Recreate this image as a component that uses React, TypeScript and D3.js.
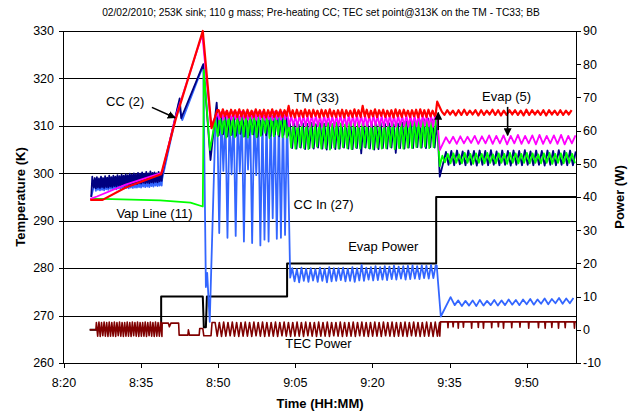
import React from "react";
import * as d3 from "d3";

type Pt = [number, number];

// Time is expressed in minutes after 8:20.
const timeTicks = [0, 15, 30, 45, 60, 75, 90];
const timeLabels = ["8:20", "8:35", "8:50", "9:05", "9:20", "9:35", "9:50"];
const tempTicks = [260, 270, 280, 290, 300, 310, 320, 330];
const powerTicks = [-10, 0, 10, 20, 30, 40, 50, 60, 70, 80, 90];

const title =
  "02/02/2010; 253K sink; 110 g mass; Pre-heating CC; TEC set point@313K on the TM - TC33; BB";

// Regularly logged stretch: first sample time, logging interval, readings.
function seg(start: number, step: number, values: number[]): Pt[] {
  return values.map((v, i) => [start + i * step, v] as Pt);
}

// ---------- TM (33), K ----------
const tmStart: Pt[] = [
  [5.1, 294.4], [7.5, 294.4], [12, 297.0], [18.9, 299.8], [21.7, 311.3],
  [27.0, 330.0], [28.7, 309.5], [29.8, 313.3],
];
const tmCycling = [
  313.3, 311.9, 313.5, 312.0, 313.2, 311.8, 313.4, 312.1, 313.3, 311.9,
  313.5, 312.0, 313.3, 311.8, 313.4, 312.0, 313.2, 311.9, 313.5, 312.1,
  313.3, 311.9, 313.4, 311.8, 313.3, 312.0, 313.5, 311.9, 313.2, 312.0,
  313.4, 311.9, 313.3, 312.1, 314.2, 312.0, 313.3, 311.8, 313.4, 312.0,
  313.2, 311.9, 313.5, 312.0, 313.3, 311.9, 313.4, 312.1, 313.2, 311.8,
  313.4, 312.0, 313.3, 311.9, 313.5, 312.0, 313.2, 311.9, 313.3, 312.0,
  313.4, 311.8, 313.3, 312.1, 313.2, 311.9, 313.5, 312.0, 313.3, 311.9,
  314.2, 312.0, 313.4, 311.8, 313.2, 312.0, 313.5, 311.9, 313.3, 312.1,
  313.4, 311.9, 313.2, 312.0, 313.3, 311.8, 313.5, 312.0, 313.3, 311.9,
  313.4, 312.1, 313.2, 311.9, 313.3, 312.0, 313.4, 311.8, 313.5, 312.0,
  313.3, 311.9, 313.4, 312.0, 313.2, 312.1,
];
const tmStep: Pt[] = [[72.3, 312.4], [72.6, 315.1], [73.5, 313.0]];
const tmLate = [
  312.3, 313.3, 312.4, 313.2, 312.2, 313.3, 312.3, 313.4, 312.3, 313.2,
  312.4, 313.3, 312.2, 313.3, 312.3, 313.2, 312.4, 313.4, 312.3, 313.3,
  312.2, 313.2, 312.3, 313.3, 312.4, 313.3, 312.3, 313.2, 312.2, 313.4,
  312.3, 313.3, 312.4, 313.2, 312.3, 313.3, 312.2, 313.3, 312.4, 313.2,
  312.3, 313.3, 312.3, 313.2, 312.4, 313.3,
];

// ---------- Evap (5), K ----------
const evapStart: Pt[] = [
  [5.1, 294.6], [6.4, 295.1], [12, 297.6], [18.7, 300.0], [19.1, 300.3],
  [21.7, 311.8], [26.9, 329.3], [28.6, 310.0], [29.8, 312.6],
];
const evapCycling = [
  311.4, 312.9, 311.3, 313.0, 311.5, 312.8, 311.3, 313.0, 311.4, 312.9,
  311.2, 313.0, 311.4, 312.9, 311.3, 312.8, 311.5, 313.0, 311.3, 312.9,
  311.4, 313.0, 311.3, 312.8, 311.4, 312.9, 311.2, 313.0, 311.4, 312.9,
  311.3, 312.9, 311.4, 313.0, 309.9, 312.2, 310.0, 312.1, 309.8, 312.3,
  310.0, 312.2, 309.9, 312.1, 309.8, 312.3, 310.0, 312.2, 309.9, 312.1,
  309.8, 312.2, 310.0, 312.3, 309.9, 312.1, 309.8, 312.2, 310.0, 312.3,
  309.9, 312.1, 309.8, 312.2, 310.0, 312.1, 309.9, 312.3, 309.8, 312.2,
  310.0, 312.1, 309.9, 312.2, 309.8, 312.3, 310.0, 312.2, 309.9, 312.1,
  309.8, 312.2, 310.0, 312.3, 309.9, 312.1, 309.8, 312.2, 310.0, 312.1,
  309.9, 312.3, 309.8, 312.2, 310.0, 312.1, 309.9, 312.2, 309.8, 312.3,
  310.0, 312.2, 309.9, 312.1, 309.8, 312.4,
];
const evapStep: Pt[] = [[72.6, 311.5], [73.1, 304.9]];
const evapLate = [
  307.6, 306.3, 307.7, 306.2, 307.8, 306.3, 307.7, 306.4, 307.9, 306.2,
  307.8, 306.3, 308.0, 306.2, 307.9, 306.3, 308.0, 306.1, 307.9, 306.3,
  308.1, 306.2, 307.9, 306.3, 308.0, 306.1, 308.1, 306.2, 307.9, 306.3,
  308.0, 306.2, 308.1, 306.1, 307.9, 306.3, 308.0,
];

// ---------- Vap Line (11), K ----------
const vapStart: Pt[] = [
  [5.1, 294.6], [7.5, 294.6], [18.7, 294.3], [24.6, 293.8], [27.0, 293.0],
  [27.2, 321.8], [28.4, 304.9], [29.4, 311.2],
];
const vapCycling = [
  307.8, 312.2, 308.3, 312.0, 307.5, 312.3, 308.0, 312.1, 307.6, 312.2,
  308.4, 312.0, 307.7, 312.3, 307.5, 312.1, 308.2, 312.2, 307.6, 312.0,
  307.9, 312.3, 308.5, 312.1, 307.4, 312.2, 307.8, 312.0, 308.1, 312.3,
  307.6, 312.1, 307.5, 310.6, 305.4, 310.4, 305.2, 310.7, 305.5, 310.3,
  305.3, 310.6, 305.1, 310.5, 305.4, 310.4, 305.6, 310.7, 305.2, 310.5,
  305.3, 310.6, 305.0, 310.4, 305.4, 310.7, 305.2, 310.5, 305.5, 310.3,
  305.3, 310.6, 305.1, 310.5, 305.4, 310.7, 305.2, 310.4, 305.5, 310.6,
  305.3, 310.5, 305.1, 310.7, 305.4, 310.4, 305.2, 310.6, 305.3, 310.5,
  305.5, 310.7, 305.1, 310.4, 305.3, 310.6, 305.2, 310.8, 305.4, 311.0,
  305.3, 311.2, 305.5, 311.4, 305.4, 311.3, 305.6, 311.5, 305.3, 311.4,
  305.5, 311.6,
];
const vapStep: Pt[] = [[72.6, 310.5], [73.1, 301.5], [73.6, 303.7]];
const vapLate = [
  302.3, 304.1, 302.1, 304.2, 302.2, 304.0, 302.1, 304.3, 302.2, 304.1,
  302.0, 304.2, 302.2, 304.1, 302.1, 304.3, 302.2, 304.0, 302.1, 304.2,
  302.2, 304.1, 302.0, 304.3, 302.2, 304.2, 302.1, 304.1, 302.2, 304.3,
  302.1, 304.2, 302.2, 304.0, 302.1, 304.2, 302.2, 304.3, 302.0, 304.1,
  302.2, 304.2, 302.1, 304.3, 302.2, 304.1, 302.1,
];

// ---------- CC (2), K ----------
const ccHead: Pt[] = [[5.3, 295.0], [5.5, 299.3], [5.8, 297.0]];
const ccNoise = [
  299.0, 296.8, 299.2, 297.0, 298.9, 296.9, 299.3, 297.1, 299.0, 296.9,
  299.4, 297.1, 299.1, 297.0, 299.5, 297.2, 299.2, 297.1, 299.5, 297.3,
  299.3, 297.2, 299.6, 297.4, 299.4, 297.3, 299.7, 297.5, 299.5, 297.4,
  299.8, 297.6, 299.6, 297.5, 299.9, 297.7, 299.7, 297.6, 300.0, 297.8,
  299.8, 297.7, 300.1, 297.9, 299.9, 297.8, 300.2, 298.0, 299.9, 297.9,
  300.3, 298.0, 300.0, 297.9, 300.4, 298.1, 300.1, 298.0, 300.2, 298.2,
  300.0, 298.1, 300.3, 298.3, 300.1, 298.4,
];
const ccRamp: Pt[] = [
  [19.1, 299.8], [22.5, 315.8], [22.8, 311.6], [27.1, 323.0], [28.5, 302.8],
  [29.7, 314.9],
];
const ccCycling = [
  308.0, 312.0, 308.2, 311.9, 307.8, 312.1, 308.1, 311.8, 307.9, 312.0,
  308.3, 311.9, 307.8, 312.1, 308.0, 311.9, 308.2, 312.0, 307.7, 311.8,
  308.1, 312.1, 308.0, 311.9, 307.9, 312.0, 308.2, 311.8, 307.8, 312.0,
  308.1, 311.9, 307.9, 310.4, 305.3, 310.5, 305.2, 310.3, 305.4, 310.5,
  305.1, 310.4, 305.3, 310.6, 305.2, 310.3, 305.4, 310.5, 305.2, 310.4,
  305.0, 310.5, 305.3, 310.4, 305.1, 310.6, 305.2, 310.3, 305.4, 310.5,
  305.2, 310.4, 305.1, 310.6, 305.3, 310.4, 304.2, 310.5, 305.4, 310.3,
  305.2, 310.5, 305.0, 310.4, 305.1, 310.6, 305.3, 310.4, 305.2, 310.5,
  305.4, 310.3, 304.3, 310.5, 305.3, 310.7, 305.2, 310.9, 305.4, 311.1,
  305.3, 311.3, 305.5, 311.2, 305.4, 311.4, 305.3, 311.5, 305.5, 311.3,
  305.4,
];
const ccStep: Pt[] = [[72.6, 311.0], [73.1, 299.3], [74.3, 304.5]];
const ccLate = [
  301.8, 304.7, 301.7, 304.8, 301.9, 304.6, 301.7, 304.8, 301.8, 304.7,
  301.6, 304.8, 301.8, 304.7, 301.7, 304.9, 301.8, 304.6, 301.7, 304.8,
  301.8, 304.7, 301.6, 304.8, 301.8, 304.7, 301.7, 304.9, 301.8, 304.6,
  301.7, 304.8, 301.8, 304.7, 301.6, 304.8, 301.8, 304.7, 301.7, 304.9,
  301.8, 304.7, 301.7, 304.8, 301.7, 304.6,
];

// ---------- CC In (27), K ----------
const ccInHead: Pt[] = [[5.3, 295.1]];
const ccInNoise = [
  298.0, 296.3, 298.1, 296.5, 297.9, 296.4, 298.2, 296.5, 298.0, 296.4,
  298.3, 296.6, 298.1, 296.5, 298.3, 296.7, 298.2, 296.6, 298.4, 296.7,
  298.2, 296.6, 298.5, 296.8, 298.3, 296.7, 298.5, 296.9, 298.4, 296.8,
  298.6, 296.9, 298.5, 296.8, 298.7, 297.0, 298.5, 296.9, 298.8, 297.0,
  298.6, 297.0, 298.8, 297.1, 298.7, 297.0, 298.9, 297.2, 298.8, 297.1,
  299.0, 297.2, 298.8, 297.1, 299.0, 297.3, 298.9, 297.2, 299.1, 297.4,
  298.9, 297.3, 299.1, 297.4, 299.0, 297.4,
];
const ccInRamp: Pt[] = [
  [19.1, 298.8], [22.3, 314.6], [23.0, 311.2], [27.1, 322.8], [27.6, 276.0],
  [27.85, 279.0], [28.35, 268.7], [29.4, 308.4],
];
const ccInSurge = [
  312.3, 287.4, 312.5, 300.5, 312.4, 286.4, 312.3, 299.8, 312.5, 286.8,
  312.4, 300.3, 312.3, 285.6, 312.5, 300.8, 312.4, 285.3, 312.3, 299.6,
  312.5, 284.8, 312.4, 286.0, 312.3, 285.6, 312.5, 290.5, 312.4, 286.2,
  312.3, 286.4, 312.5, 287.0, 312.4,
];
const ccInDrop: Pt[] = [[44.0, 278.0]];
const ccIn20W = [
  280.0, 277.2, 279.8, 277.0, 280.1, 277.3, 279.9, 277.1, 280.0, 277.4,
  279.8, 277.1, 280.1, 277.3, 279.9, 277.0, 280.2, 277.2, 280.0, 277.3,
  280.0, 277.5, 280.1, 277.2, 279.9, 277.3, 280.2, 277.1, 280.0, 277.4,
  280.7, 277.3, 280.1, 277.6, 280.2, 277.4, 280.4, 277.5, 280.2, 277.6,
  280.4, 277.5, 280.3, 277.7, 280.5, 277.6, 280.3, 277.8, 280.4, 277.6,
  280.5, 277.7, 280.6, 277.8, 280.4, 277.7, 280.6, 277.9, 280.5, 277.8,
  280.7, 277.9, 280.6,
];
const ccInStep: Pt[] = [[72.5, 280.6], [73.3, 269.8], [75.2, 273.9]];
const ccInLate = [
  272.2, 273.2, 272.0, 273.1, 272.1, 273.2, 272.0, 273.3, 272.1, 273.1,
  272.2, 273.3, 272.1, 273.2, 272.2, 273.4, 272.3, 273.3, 272.2, 273.4,
  272.4, 273.5, 272.3, 273.4, 272.5, 273.6, 272.4, 273.5, 272.6, 273.7,
  272.5, 273.6, 272.6, 273.7,
];

// ---------- Evap Power, W ----------
const evapPower: Pt[] = [
  [5.0, 0], [18.9, 0], [18.9, 10], [27.0, 10], [27.2, 0.8], [27.6, 0.8],
  [27.8, 10], [43.4, 10], [43.4, 20], [72.4, 20], [72.4, 40], [99.6, 40],
];

// ---------- TEC Power, W ----------
const tecHead: Pt[] = [[5.0, 0], [6.2, 0]];
const tecDuty = [
  2.2, -1.9, 2.3, -2.0, 2.2, -1.8, 2.3, -1.9, 2.2, -2.0,
  2.3, -1.9, 2.2, -1.9, 2.3, -2.0, 2.2, -1.8, 2.3, -1.9,
  2.2, -2.0, 2.2, -1.9, 2.3, -1.9, 2.2, -2.0, 2.3, -1.8,
  2.2, -1.9, 2.3, -2.0, 2.2, -1.9, 2.2, -1.9, 2.3, -2.0,
  2.2, -1.8, 2.3, -1.9, 2.2, -2.0, 2.3, -1.9, 2.2, -1.9,
  2.3, -2.0,
];
const tecHold: Pt[] = [
  [19.1, 2.0], [20.3, 2.0], [20.5, 0.9], [20.8, 2.0], [22.3, 2.0], [22.4, -1.6],
  [24.1, -1.6], [24.2, 0.0], [24.4, -1.6], [26.3, -1.6], [26.4, 0.4], [27.0, 0.4],
  [27.2, -1.8], [28.6, -1.8], [28.8, 2.2], [29.4, 2.2],
];
const tecCycling = [
  -1.9, 2.2, -2.0, 2.3, -1.9, 2.2, -1.8, 2.3, -1.9, 2.2,
  -2.0, 2.2, -1.9, 2.3, -1.9, 2.2, -2.0, 2.3, -1.8, 2.2,
  -1.9, 2.3, -2.0, 2.2, -1.9, 2.2, -1.9, 2.3, -2.0, 2.2,
  -1.8, 2.3, -1.9, 2.2, -2.0, 2.2, -1.9, 2.3, -1.9, 2.2,
  -2.0, 2.3, -1.8, 2.2, -1.9, 2.2, -2.0, 2.3, -1.9, 2.2,
  -1.9, 2.3, -2.0, 2.2, -1.8, 2.2, -1.9, 2.3, -2.0, 2.2,
  -1.9, 2.2, -1.9, 2.3, -2.0, 2.2, -1.8, 2.3, -1.9, 2.2,
  -2.0, 2.2, -1.9, 2.3, -1.9, 2.2, -2.0, 2.3, -1.8, 2.2,
  -1.9, 2.3, -2.0, 2.2, -1.9, 2.2, -1.9, 2.3, -2.0, 2.2,
  -1.8, 2.3, -1.9, 2.2, -2.0, 2.2, -1.9, 2.3, -1.9, 2.2,
  -2.0, 2.3, -1.9, 2.2,
];
const tecStep: Pt[] = [[73.1, -1.9], [73.25, 2.4]];
const tecLevel = 2.4;
const tecDipTimes = [
  74.7, 75.7, 76.7, 77.7, 79.3, 80.6, 81.6, 83.2, 84.5, 85.5,
  87.1, 88.7, 90.4, 92.3, 93.6, 94.9, 96.2, 97.5, 99.3,
];
const tecDipLevels = [
  0.6, 0.9, 0.5, 0.8, 0.5, 0.7, 0.5, 0.6, 0.9, 0.5,
  0.6, 0.8, 0.5, 0.6, 0.5, 0.7, 0.5, 0.6, 0.5,
];

// Annotation text and pointer arrows (time, value on the named axis)
const notes = [
  { text: "CC (2)", t: 11.9, v: 315.1, axis: "T" },
  { text: "TM (33)", t: 49.1, v: 316.0, axis: "T" },
  { text: "Evap (5)", t: 86.1, v: 316.1, axis: "T" },
  { text: "Vap Line (11)", t: 17.6, v: 291.6, axis: "T" },
  { text: "CC In (27)", t: 50.5, v: 293.5, axis: "T" },
  { text: "Evap Power", t: 62.1, v: 25.0, axis: "P" },
  { text: "TEC Power", t: 49.5, v: -4.1, axis: "P" },
];
const pointers: { from: Pt; to: Pt }[] = [
  { from: [17.1, 313.9], to: [21.6, 311.7] },
  { from: [86.3, 314.0], to: [86.3, 308.0] },
  { from: [72.8, 309.1], to: [72.8, 312.8] },
];

const FONT = "'Liberation Sans', Arial, Helvetica, sans-serif";

export default function App() {
  const left = 64, right = 576, top = 31, bottom = 363;
  const x = d3.scaleLinear().domain([0, 99.6]).range([left, right]);
  const yT = d3.scaleLinear().domain([260, 330]).range([bottom, top]);
  const yP = d3.scaleLinear().domain([-10, 90]).range([bottom, top]);
  const lineT = d3.line<Pt>().x((d) => x(d[0])).y((d) => yT(d[1]));
  const lineP = d3.line<Pt>().x((d) => x(d[0])).y((d) => yP(d[1]));

  const tm = [...tmStart, ...seg(30.1, 0.4, tmCycling), ...tmStep, ...seg(74.0, 0.55, tmLate)];
  const evap = [...evapStart, ...seg(30.2, 0.4, evapCycling), ...evapStep, ...seg(74.3, 0.7, evapLate)];
  const vap = [...vapStart, ...seg(29.9, 0.42, vapCycling), ...vapStep, ...seg(74.1, 0.55, vapLate)];
  const cc = [...ccHead, ...seg(6.0, 0.2, ccNoise), ...ccRamp, ...seg(30.1, 0.42, ccCycling), ...ccStep, ...seg(74.8, 0.55, ccLate)];
  const ccIn = [
    ...ccInHead, ...seg(6.0, 0.2, ccInNoise), ...ccInRamp, ...seg(29.8, 0.4, ccInSurge),
    ...ccInDrop, ...seg(44.4, 0.45, ccIn20W), ...ccInStep, ...seg(76.0, 0.7, ccInLate),
  ];
  const tecLate: Pt[] = [];
  tecDipTimes.forEach((tt, i) => {
    tecLate.push([tt - 0.08, tecLevel], [tt, tecDipLevels[i]], [tt + 0.08, tecLevel]);
  });
  const tec = [
    ...tecHead, ...seg(6.3, 0.25, tecDuty), ...tecHold, ...seg(29.8, 0.42, tecCycling),
    ...tecStep, ...tecLate, [99.6, tecLevel] as Pt,
  ];

  const crisp = (v: number) => Math.round(v) + 0.5;

  return (
    <svg
      width={629}
      height={411}
      style={{ position: "absolute", left: 0, top: 0, display: "block", background: "#fff" }}
      fontFamily={FONT}
    >
      <defs>
        <clipPath id="plot">
          <rect x={left} y={top - 2} width={right - left} height={bottom - top + 2} />
        </clipPath>
        <marker id="head" viewBox="0 0 10 10" refX="9" refY="5" markerWidth="5" markerHeight="5" orient="auto">
          <path d="M0,0 L10,5 L0,10 z" fill="#000" />
        </marker>
      </defs>

      <text x={321} y={15.5} textAnchor="middle" fontSize={10.2} fill="#000">
        {title}
      </text>

      {/* horizontal gridlines on the temperature scale */}
      {tempTicks.map((t) => (
        <line key={"g" + t} x1={left} x2={right} y1={crisp(yT(t))} y2={crisp(yT(t))} stroke="#000" strokeWidth={1} />
      ))}

      <g clipPath="url(#plot)" fill="none" strokeLinejoin="round">
        <path d={lineP(evapPower) || ""} stroke="#000" strokeWidth={2} />
        <path d={lineP(tec) || ""} stroke="#800000" strokeWidth={1.6} />
        <path d={lineT(ccIn) || ""} stroke="#3366FF" strokeWidth={1.8} />
        <path d={lineT(cc) || ""} stroke="#000080" strokeWidth={1.8} />
        <path d={lineT(vap) || ""} stroke="#00FF00" strokeWidth={1.8} />
        <path d={lineT(evap) || ""} stroke="#FF00FF" strokeWidth={1.8} />
        <path d={lineT(tm) || ""} stroke="#FF0000" strokeWidth={2.2} />
      </g>

      {/* annotations */}
      {pointers.map((p, i) => (
        <line
          key={"p" + i}
          x1={x(p.from[0])}
          y1={yT(p.from[1])}
          x2={x(p.to[0])}
          y2={yT(p.to[1])}
          stroke="#000"
          strokeWidth={1.6}
          markerEnd="url(#head)"
        />
      ))}
      {notes.map((n) => (
        <text
          key={n.text}
          x={x(n.t)}
          y={(n.axis === "T" ? yT(n.v) : yP(n.v)) + 4.5}
          textAnchor="middle"
          fontSize={13}
          fill="#000"
        >
          {n.text}
        </text>
      ))}

      {/* axes */}
      <line x1={crisp(left) - 1} x2={crisp(left) - 1} y1={top} y2={bottom + 0.5} stroke="#000" strokeWidth={1} />
      <line x1={crisp(right)} x2={crisp(right)} y1={top} y2={bottom + 0.5} stroke="#000" strokeWidth={1} />
      <line x1={left - 1} x2={right + 1} y1={crisp(bottom)} y2={crisp(bottom)} stroke="#000" strokeWidth={1} />

      {tempTicks.map((t) => (
        <g key={"lt" + t}>
          <line x1={left - 5} x2={left} y1={crisp(yT(t))} y2={crisp(yT(t))} stroke="#000" />
          <text x={54} y={yT(t) + 4.3} textAnchor="end" fontSize={12.5} fill="#000">
            {t}
          </text>
        </g>
      ))}
      {powerTicks.map((p) => (
        <g key={"rt" + p}>
          <line x1={right} x2={right + 5} y1={crisp(yP(p))} y2={crisp(yP(p))} stroke="#000" />
          <text x={583} y={yP(p) + 4.3} textAnchor="start" fontSize={12.5} fill="#000">
            {p}
          </text>
        </g>
      ))}
      {timeTicks.map((t, i) => (
        <g key={"xt" + t}>
          <line x1={crisp(x(t))} x2={crisp(x(t))} y1={bottom} y2={bottom + 5} stroke="#000" />
          <text x={x(t)} y={386.5} textAnchor="middle" fontSize={12.5} fill="#000">
            {timeLabels[i]}
          </text>
        </g>
      ))}

      <text x={320} y={407.5} textAnchor="middle" fontSize={13} fontWeight="bold" fill="#000">
        Time (HH:MM)
      </text>
      <text
        transform={`translate(25,197) rotate(-90)`}
        textAnchor="middle"
        fontSize={13}
        fontWeight="bold"
        fill="#000"
      >
        Temperature (K)
      </text>
      <text
        transform={`translate(624,197) rotate(-90)`}
        textAnchor="middle"
        fontSize={13}
        fontWeight="bold"
        fill="#000"
      >
        Power (W)
      </text>
    </svg>
  );
}
